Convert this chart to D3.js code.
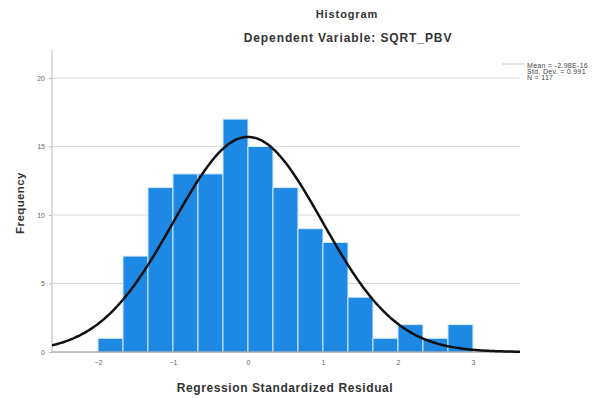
<!DOCTYPE html>
<html>
<head>
<meta charset="utf-8">
<script src="https://cdn.jsdelivr.net/npm/d3@7"></script>
<style>
  body { margin: 0; background: #fff; }
  text { font-family: "Liberation Sans", Arial, sans-serif; }
</style>
</head>
<body>
<script>
// histogram bins (lower edges), each 1/3 wide
const binEdges = [-2, -1.6667, -1.3333, -1, -0.6667, -0.3333, 0, 0.3333, 0.6667, 1, 1.3333, 1.6667, 2, 2.3333, 2.6667];
const binWidth = 1 / 3;
const counts = [1, 7, 12, 13, 13, 17, 15, 12, 9, 8, 4, 1, 2, 1, 2];
const xTicks = [-2, -1, 0, 1, 2, 3];
const yTicks = [0, 5, 10, 15, 20];
const mean = 0, sd = 0.991, N = 117;
const legendLines = ["Mean = -2.98E-16", "Std. Dev. = 0.991", "N = 117"];

const W = 594, H = 398;
const plotL = 52, plotR = 520, plotT = 50, plotB = 352;

const svg = d3.select("body").append("svg")
  .attr("width", W)
  .attr("height", H);

const x = d3.scaleLinear().domain([-2.613, 3.627]).range([plotL, plotR]);
const y = d3.scaleLinear().domain([0, 20]).range([plotB, plotB - 274]);

// grid lines
svg.append("g")
  .selectAll("line")
  .data(yTicks.filter(d => d > 0))
  .enter().append("line")
  .attr("x1", plotL).attr("x2", plotR)
  .attr("y1", d => y(d)).attr("y2", d => y(d))
  .attr("stroke", "#d9d9d9")
  .attr("stroke-width", 1);

// y axis
const yAxis = svg.append("g")
  .attr("transform", `translate(${plotL},0)`)
  .call(d3.axisLeft(y).tickValues(yTicks).tickFormat(d3.format("d")).tickSize(3).tickPadding(4));
yAxis.select(".domain").attr("stroke", "#bbb").attr("d", `M0,${plotT}V${plotB}`);
yAxis.selectAll(".tick line").attr("stroke", "#bbb");
yAxis.selectAll("text").attr("fill", "#666").attr("font-size", 7);

// bars
svg.append("g")
  .selectAll("rect")
  .data(counts)
  .enter().append("rect")
  .attr("x", (d, i) => x(binEdges[i]))
  .attr("y", d => y(d))
  .attr("width", (d, i) => x(binEdges[i] + binWidth) - x(binEdges[i]))
  .attr("height", d => y(0) - y(d))
  .attr("fill", "#1e88e5")
  .attr("stroke", "#d6ecff")
  .attr("stroke-width", 1);

// x axis
const xAxis = svg.append("g")
  .attr("transform", `translate(0,${plotB})`)
  .call(d3.axisBottom(x).tickValues(xTicks).tickFormat(d3.format("d")).tickSize(0).tickPadding(8));
xAxis.select(".domain").attr("stroke", "#888").attr("d", `M${plotL},0H${plotR}`);
xAxis.selectAll("text").attr("fill", "#666").attr("font-size", 7);

// normal curve
const scale = N * binWidth;
const pts = d3.range(x.domain()[0], x.domain()[1] + 0.001, 0.02);
const line = d3.line()
  .x(d => x(d))
  .y(d => y(scale * Math.exp(-0.5 * ((d - mean) / sd) ** 2) / (sd * Math.sqrt(2 * Math.PI))))
  .curve(d3.curveBasis);
svg.append("path")
  .datum(pts)
  .attr("d", line)
  .attr("fill", "none")
  .attr("stroke", "#111")
  .attr("stroke-width", 2.5);

// legend
svg.append("line")
  .attr("x1", 502).attr("x2", 525)
  .attr("y1", 64).attr("y2", 64)
  .attr("stroke", "#ccc");
svg.append("g")
  .selectAll("text")
  .data(legendLines)
  .enter().append("text")
  .attr("x", 527)
  .attr("y", (d, i) => 68 + i * 6.2)
  .attr("font-size", 7)
  .attr("letter-spacing", 0.3)
  .attr("fill", "#444")
  .text(d => d);

// titles
svg.append("text")
  .attr("x", 347).attr("y", 18)
  .attr("text-anchor", "middle")
  .attr("font-size", 11)
  .attr("letter-spacing", 0.9)
  .attr("font-weight", "bold")
  .attr("fill", "#333")
  .text("Histogram");
svg.append("text")
  .attr("x", 348).attr("y", 42)
  .attr("text-anchor", "middle")
  .attr("font-size", 12)
  .attr("letter-spacing", 0.9)
  .attr("font-weight", "bold")
  .attr("fill", "#333")
  .text("Dependent Variable: SQRT_PBV");

svg.append("text")
  .attr("transform", "translate(24,203) rotate(-90)")
  .attr("text-anchor", "middle")
  .attr("font-size", 11.5)
  .attr("letter-spacing", 0.4)
  .attr("font-weight", "bold")
  .attr("fill", "#333")
  .text("Frequency");
svg.append("text")
  .attr("x", 285).attr("y", 392)
  .attr("text-anchor", "middle")
  .attr("font-size", 12)
  .attr("letter-spacing", 0.6)
  .attr("font-weight", "bold")
  .attr("fill", "#333")
  .text("Regression Standardized Residual");
</script>
</body>
</html>
